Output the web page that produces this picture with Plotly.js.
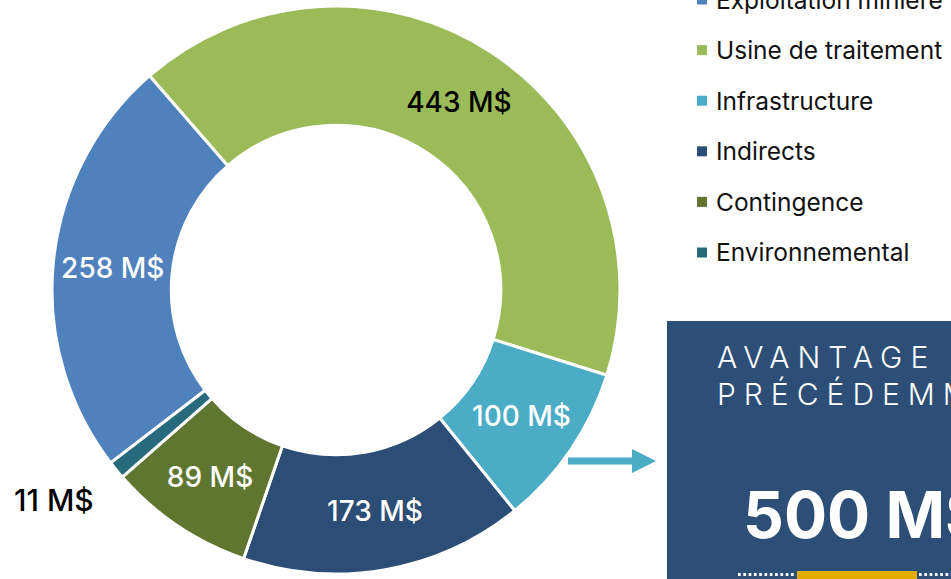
<!DOCTYPE html>
<html>
<head>
<meta charset="utf-8">
<script src="https://cdn.plot.ly/plotly-3.0.1.min.js"></script>
<style>
  html, body { margin: 0; padding: 0; overflow: hidden; background: #fff; }
  #chart { width: 951px; height: 579px; }
</style>
</head>
<body>
<div id="chart"></div>
<script>
// ---- Data ----
const categories = ["Exploitation minière", "Usine de traitement", "Infrastructure", "Indirects", "Contingence", "Environnemental"];
const values = [258, 443, 100, 173, 89, 11];
const unit = " M$";
const colors = ["#4F81BD", "#9BBB59", "#4BACC6", "#2C4D75", "#5F7530", "#276A7C"];
const labelColors = ["#FFFFFF", "#000000", "#FFFFFF", "#FFFFFF", "#FFFFFF", "#000000"];
const outsideIndex = [5];             // slice whose label sits outside the ring
const calloutLines = ["AVANTAGE", "PRÉCÉDEMMENT"];
const calloutValue = 500;

// ---- helpers (pixel -> paper) ----
const W = 951, H = 579;
const px = x => x / W;
const py = y => 1 - y / H;

const FONT = "Inter, 'Noto Sans', 'DejaVu Sans', sans-serif";

const sliceText = values.map((v, i) => outsideIndex.includes(i) ? "" : v + unit);

const CX = 336, CY = 290, R = 284;

const pie = {
  type: "pie",
  labels: categories,
  values: values,
  sort: false,
  direction: "clockwise",
  rotation: 232.5,
  hole: 0.58,
  marker: { colors: colors, line: { color: "#FFFFFF", width: 3 } },
  text: sliceText,
  textinfo: "text",
  textposition: "inside",
  insidetextorientation: "horizontal",
  textfont: { family: FONT, size: 28, color: labelColors, weight: 500 },
  hoverinfo: "label+value",
  showlegend: false,
  domain: { x: [px(CX - R), px(CX + R)], y: [py(CY + R), py(CY - R)] }
};

// ---- custom legend, built from the categories ----
const shapes = [];
const annotations = [];
categories.forEach((c, i) => {
  const cy = -0.5 + 50.6 * i;
  shapes.push({ type: "rect", xref: "paper", yref: "paper",
    x0: px(697), x1: px(707), y0: py(cy + 5), y1: py(cy - 5),
    fillcolor: colors[i], line: { width: 0 } });
  annotations.push({ xref: "paper", yref: "paper", x: px(714), y: py(cy),
    xanchor: "left", yanchor: "middle", align: "left", showarrow: false,
    text: c, font: { family: FONT, size: 24.5, color: "#111111" } });
});

// outside label for the small slice
outsideIndex.forEach(i => {
  annotations.push({ xref: "paper", yref: "paper", x: px(12), y: py(500),
    xanchor: "left", yanchor: "middle", showarrow: false,
    text: values[i] + unit, font: { family: FONT, size: 30, color: labelColors[i], weight: 500 } });
});

// ---- callout box ----
shapes.push({ type: "rect", xref: "paper", yref: "paper",
  x0: px(667), x1: px(960), y0: py(590), y1: py(321),
  fillcolor: "#2D4E76", line: { width: 0 } });
// yellow bar
shapes.push({ type: "rect", xref: "paper", yref: "paper",
  x0: px(797), x1: px(917), y0: py(585), y1: py(571),
  fillcolor: "#E2AC00", line: { width: 0 } });
// dotted lines
shapes.push({ type: "line", xref: "paper", yref: "paper",
  x0: px(738), x1: px(796), y0: py(574.5), y1: py(574.5),
  line: { color: "#FFFFFF", width: 3, dash: "2.7px,2.6px" } });
shapes.push({ type: "line", xref: "paper", yref: "paper",
  x0: px(919), x1: px(960), y0: py(574.5), y1: py(574.5),
  line: { color: "#FFFFFF", width: 3, dash: "2.7px,2.6px" } });
// arrow
shapes.push({ type: "line", xref: "paper", yref: "paper",
  x0: px(568), x1: px(634), y0: py(461), y1: py(461),
  line: { color: "#4BACC6", width: 7 } });
shapes.push({ type: "path", xref: "paper", yref: "paper",
  path: `M ${px(632)} ${py(449)} L ${px(656)} ${py(461)} L ${px(632)} ${py(473)} Z`,
  fillcolor: "#4BACC6", line: { width: 0 } });

calloutLines.forEach((t, i) => {
  annotations.push({ xref: "paper", yref: "paper", x: px(715), y: py(357 + 36.5 * i),
    xanchor: "left", yanchor: "middle", align: "left", showarrow: false,
    text: t, font: { family: FONT, size: 30, color: "#FFFFFF", weight: 300 } });
});
annotations.push({ xref: "paper", yref: "paper", x: px(741), y: py(514),
  xanchor: "left", yanchor: "middle", align: "left", showarrow: false,
  text: calloutValue + unit, font: { family: FONT, size: 64, color: "#FFFFFF", weight: 700 } });

const layout = {
  width: W, height: H,
  margin: { l: 0, r: 0, t: 0, b: 0 },
  paper_bgcolor: "#FFFFFF",
  showlegend: false,
  shapes: shapes,
  annotations: annotations
};

Plotly.newPlot("chart", [pie], layout, { displayModeBar: false, staticPlot: true }).then(() => {
  document.querySelectorAll(".annotation-text").forEach(t => {
    if (calloutLines.includes(t.textContent)) t.style.letterSpacing = "8px";
  });
});
</script>
</body>
</html>
